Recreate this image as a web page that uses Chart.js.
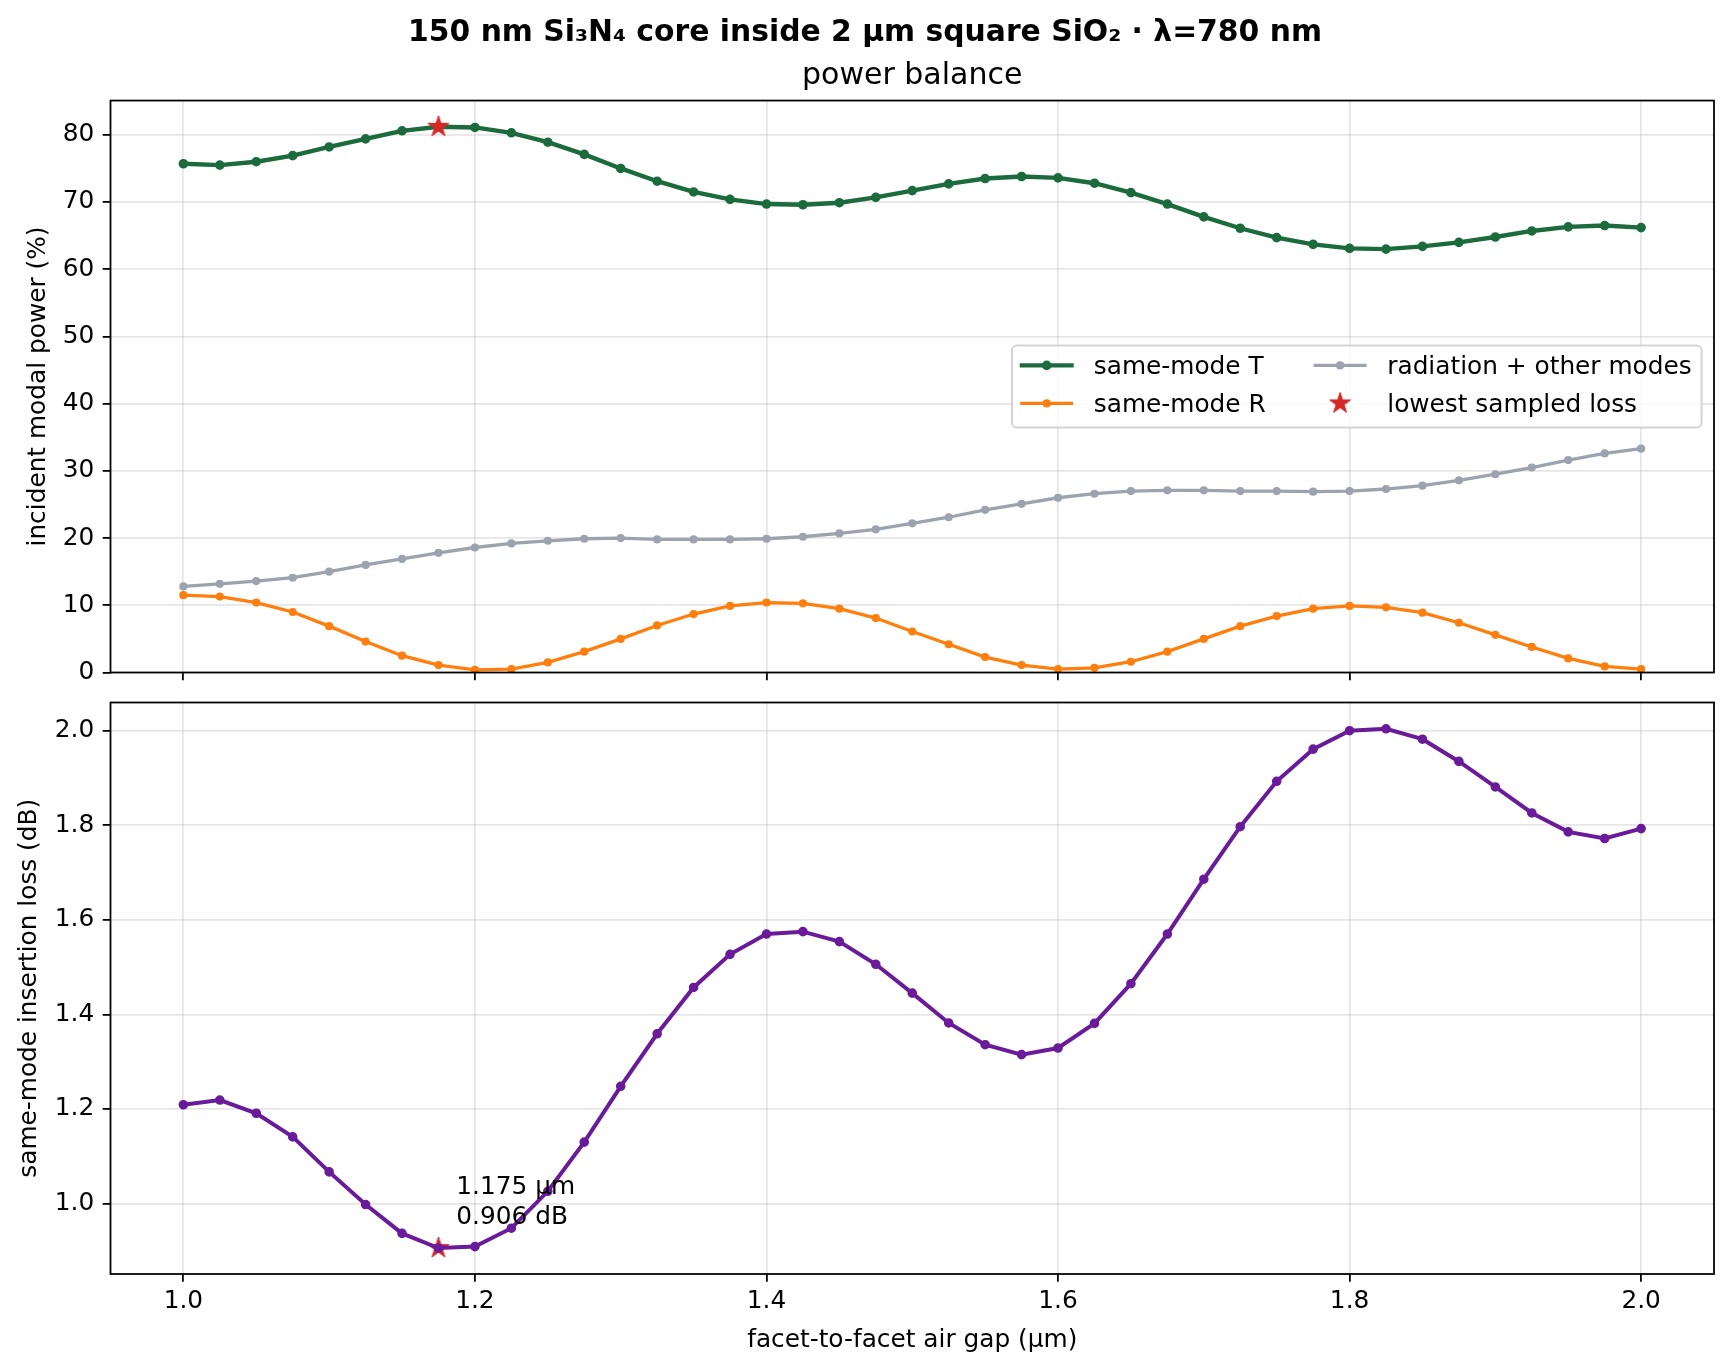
<!DOCTYPE html>
<html>
<head>
<meta charset="utf-8">
<script src="https://cdn.jsdelivr.net/npm/chart.js@4.4.1/dist/chart.umd.min.js"></script>
<style>
  html, body { margin: 0; padding: 0; background: #ffffff; }
  #wrap { position: relative; width: 1730px; height: 1370px; background: #fff; }
  .box { position: absolute; left: 0; width: 1730px; }
</style>
</head>
<body>
<div id="wrap">
  <div class="box" style="top:0px;height:686px;"><canvas id="topChart"></canvas></div>
  <div class="box" style="top:686px;height:684px;"><canvas id="bottomChart"></canvas></div>
</div>
<script>
// ---------------- data ----------------
const gapUm = [1.000, 1.025, 1.050, 1.075, 1.100, 1.125, 1.150, 1.175, 1.200, 1.225,
               1.250, 1.275, 1.300, 1.325, 1.350, 1.375, 1.400, 1.425, 1.450, 1.475,
               1.500, 1.525, 1.550, 1.575, 1.600, 1.625, 1.650, 1.675, 1.700, 1.725,
               1.750, 1.775, 1.800, 1.825, 1.850, 1.875, 1.900, 1.925, 1.950, 1.975, 2.000];

const sameModeT = [75.7, 75.5, 76.0, 76.9, 78.2, 79.4, 80.6, 81.2, 81.1, 80.3,
                   78.9, 77.1, 75.0, 73.1, 71.5, 70.4, 69.7, 69.6, 69.9, 70.7,
                   71.7, 72.7, 73.5, 73.8, 73.6, 72.8, 71.4, 69.7, 67.8, 66.1,
                   64.7, 63.7, 63.1, 63.0, 63.4, 64.0, 64.8, 65.7, 66.3, 66.5, 66.2];

const sameModeR = [11.5, 11.3, 10.4, 9.0, 6.9, 4.6, 2.5, 1.1, 0.4, 0.5,
                   1.5, 3.1, 5.0, 7.0, 8.7, 9.9, 10.4, 10.3, 9.5, 8.1,
                   6.1, 4.2, 2.3, 1.1, 0.5, 0.7, 1.6, 3.1, 5.0, 6.9,
                   8.4, 9.5, 9.9, 9.7, 8.9, 7.4, 5.6, 3.8, 2.1, 0.9, 0.5];

const radiationOther = [12.8, 13.2, 13.6, 14.1, 15.0, 16.0, 16.9, 17.8, 18.6, 19.2,
                        19.6, 19.9, 20.0, 19.8, 19.8, 19.8, 19.9, 20.2, 20.7, 21.3,
                        22.2, 23.1, 24.2, 25.1, 26.0, 26.6, 27.0, 27.1, 27.1, 27.0,
                        27.0, 26.9, 27.0, 27.3, 27.8, 28.6, 29.5, 30.5, 31.6, 32.6, 33.3];

const insertionLossDb = [1.209, 1.219, 1.191, 1.141, 1.067, 0.998, 0.937, 0.906, 0.909, 0.948,
                         1.026, 1.130, 1.248, 1.359, 1.457, 1.527, 1.570, 1.575, 1.554, 1.506,
                         1.445, 1.382, 1.336, 1.315, 1.329, 1.381, 1.465, 1.570, 1.686, 1.797,
                         1.893, 1.961, 2.000, 2.004, 1.982, 1.935, 1.881, 1.826, 1.786, 1.772, 1.793];

const bestGap = [1.175];
const bestT = [81.2];
const bestLoss = [0.906];

const xTicks = [1.0, 1.2, 1.4, 1.6, 1.8, 2.0];
const powerTicks = [0, 10, 20, 30, 40, 50, 60, 70, 80];
const lossTicks = [1.0, 1.2, 1.4, 1.6, 1.8, 2.0];

const seriesLabels = ['same-mode T', 'same-mode R', 'radiation + other modes', 'lowest sampled loss'];
const annotationLines = ['1.175 µm', '0.906 dB'];
const suptitleText = '150 nm Si\u2083N\u2084 core inside 2 µm square SiO\u2082 · λ=780 nm';
const subtitleText = 'power balance';
const xLabel = 'facet-to-facet air gap (µm)';
const yLabelTop = 'incident modal power (%)';
const yLabelBottom = 'same-mode insertion loss (dB)';

// ---------------- styling ----------------
const FS = 24.8;            // base font px
const GREEN = '#1b6b3c';
const ORANGE = '#ff7f0e';
const GREY = '#9ca3af';
const PURPLE = '#6a1b9a';
const RED = '#d62728';
const GRID = 'rgba(176,176,176,0.32)';
const FAMILY = "'DejaVu Sans', 'Liberation Sans', sans-serif";

Chart.defaults.font.family = FAMILY;
Chart.defaults.font.size = FS;
Chart.defaults.color = '#000';

function makeStar(R, color) {
  const s = Math.ceil(2 * R + 4);
  const c = document.createElement('canvas');
  c.width = s; c.height = s;
  const g = c.getContext('2d');
  const cx = s / 2, cy = s / 2, r = R * 0.381966;
  g.beginPath();
  for (let i = 0; i < 10; i++) {
    const a = -Math.PI / 2 + i * Math.PI / 5;
    const rr = (i % 2) ? r : R;
    g.lineTo(cx + rr * Math.cos(a), cy + rr * Math.sin(a));
  }
  g.closePath();
  g.fillStyle = color; g.fill();
  g.lineWidth = 1; g.strokeStyle = color; g.stroke();
  return c;
}
const starImg = makeStar(11, RED);

const pts = (xs, ys) => xs.map((x, i) => ({ x: x, y: ys[i] }));

function noPad(s) { s.paddingTop = 0; s.paddingBottom = 0; s.paddingLeft = 0; s.paddingRight = 0; }

function xScale(showLabels, height, titleOpts) {
  return {
    type: 'linear', min: 0.95, max: 2.05,
    afterBuildTicks: s => { s.ticks = xTicks.map(v => ({ value: v })); },
    afterFit: s => { s.height = height; noPad(s); },
    grid: { color: GRID, lineWidth: 1.78, drawTicks: true, tickLength: 7.8, tickColor: '#000', tickWidth: 1.78 },
    border: { display: false },
    ticks: { display: showLabels, padding: 4.5, maxRotation: 0, autoSkip: false,
             callback: v => Number(v).toFixed(1), font: { size: FS }, color: '#000' },
    title: titleOpts || { display: false }
  };
}

function yScale(min, max, ticks, fmt, label, titlePad) {
  return {
    type: 'linear', min: min, max: max, position: 'left',
    afterBuildTicks: s => { s.ticks = ticks.map(v => ({ value: v })); },
    afterFit: s => { s.width = 110.5; noPad(s); },
    grid: { color: GRID, lineWidth: 1.78, drawTicks: true, tickLength: 7.8, tickColor: '#000', tickWidth: 1.78 },
    border: { display: false },
    ticks: { padding: 8.5, autoSkip: false, callback: fmt, font: { size: FS }, color: '#000' },
    title: { display: true, text: label, font: { size: FS }, color: '#000', padding: { top: titlePad, bottom: 0 } }
  };
}

const framePlugin = {
  id: 'frame',
  afterDatasetsDraw(chart) {
    const a = chart.chartArea, ctx = chart.ctx;
    ctx.save();
    ctx.strokeStyle = '#000'; ctx.lineWidth = 1.78;
    ctx.strokeRect(a.left, a.top, a.right - a.left, a.bottom - a.top);
    ctx.restore();
  }
};

const legendPlugin = {
  id: 'mplLegend',
  afterDraw(chart) {
    const ctx = chart.ctx, a = chart.chartArea;
    const ds = chart.data.datasets;
    const cols = [[0, 1], [2, 3]];
    const bp = 0.4 * FS, hl = 2 * FS, hp = 0.9 * FS, cs = 2 * FS;
    ctx.save();
    ctx.font = FS + 'px ' + FAMILY;
    const colW = cols.map(c => Math.max(...c.map(i => ctx.measureText(ds[i].label).width)));
    const W = 2 * bp + 2 * (hl + hp) + colW[0] + cs + colW[1];
    const H = 2 * bp + 2 * FS + 0.5 * FS;
    const right = a.right - 0.5 * FS;
    const left = right - W;
    const top = (a.top + a.bottom) / 2 - H / 2;
    const rr = 0.2 * FS;
    ctx.beginPath();
    ctx.roundRect(left, top, W, H, rr);
    ctx.fillStyle = 'rgba(255,255,255,0.8)'; ctx.fill();
    ctx.strokeStyle = 'rgba(204,204,204,0.85)'; ctx.lineWidth = 2; ctx.stroke();
    const rowY = [top + 19.8, top + 19.8 + 38];
    let x0 = left + bp;
    cols.forEach((c, ci) => {
      c.forEach((idx, ri) => {
        const d = ds[idx], y = rowY[ri];
        if (d.showLine !== false) {
          ctx.beginPath();
          ctx.strokeStyle = d.borderColor; ctx.lineWidth = d.borderWidth; ctx.lineCap = 'square';
          ctx.moveTo(x0, y); ctx.lineTo(x0 + hl, y); ctx.stroke();
          ctx.lineCap = 'butt';
          ctx.beginPath();
          ctx.arc(x0 + hl / 2, y, d.pointRadius, 0, Math.PI * 2);
          ctx.fillStyle = d.pointBackgroundColor; ctx.fill();
          ctx.lineWidth = d.pointBorderWidth; ctx.strokeStyle = d.pointBorderColor; ctx.stroke();
        } else {
          ctx.drawImage(starImg, x0 + hl / 2 - starImg.width / 2, y - starImg.height / 2);
        }
        ctx.fillStyle = '#000'; ctx.textBaseline = 'alphabetic'; ctx.textAlign = 'left';
        ctx.fillText(d.label, x0 + hl + hp, y + 8.9);
      });
      x0 += hl + hp + colW[ci] + cs;
    });
    ctx.restore();
  }
};

const annotationPlugin = {
  id: 'bestNote',
  afterDatasetsDraw(chart) {
    const ctx = chart.ctx;
    const px = chart.scales.x.getPixelForValue(bestGap[0]);
    const py = chart.scales.y.getPixelForValue(bestLoss[0]);
    ctx.save();
    ctx.font = FS + 'px ' + FAMILY;
    ctx.fillStyle = '#000'; ctx.textAlign = 'left'; ctx.textBaseline = 'alphabetic';
    const base2 = py - 17.8 - 5.8;
    ctx.fillText(annotationLines[0], px + 17.8, base2 - 30);
    ctx.fillText(annotationLines[1], px + 17.8, base2);
    ctx.restore();
  }
};

// ---------------- top chart ----------------
new Chart(document.getElementById('topChart'), {
  type: 'line',
  data: {
    datasets: [
      { label: seriesLabels[0], data: pts(gapUm, sameModeT), borderColor: GREEN, backgroundColor: GREEN,
        borderWidth: 4.4, pointRadius: 3.7, pointBorderWidth: 2.2, pointBackgroundColor: GREEN, pointBorderColor: GREEN,
        tension: 0, order: 2 },
      { label: seriesLabels[1], data: pts(gapUm, sameModeR), borderColor: ORANGE, backgroundColor: ORANGE,
        borderWidth: 3.3, pointRadius: 3.0, pointBorderWidth: 2.2, pointBackgroundColor: ORANGE, pointBorderColor: ORANGE,
        tension: 0, order: 3 },
      { label: seriesLabels[2], data: pts(gapUm, radiationOther), borderColor: GREY, backgroundColor: GREY,
        borderWidth: 3.3, pointRadius: 3.0, pointBorderWidth: 2.2, pointBackgroundColor: GREY, pointBorderColor: GREY,
        tension: 0, order: 4 },
      { label: seriesLabels[3], data: pts(bestGap, bestT), showLine: false, pointStyle: starImg,
        pointRadius: 11, borderColor: RED, backgroundColor: RED, order: 1 }
    ]
  },
  options: {
    responsive: true, maintainAspectRatio: false, animation: false,
    layout: { padding: { top: 0, right: 0, bottom: 5.5, left: 0 } },
    plugins: {
      legend: { display: false }, tooltip: { enabled: false },
      title: { display: true, text: suptitleText, color: '#000',
               font: { size: 29.8, weight: 'bold' }, padding: { top: 15.0, bottom: 0 } },
      subtitle: { display: true, text: subtitleText, color: '#000', fullSize: false,
                  font: { size: 30, weight: 'normal' }, padding: { top: 7.4, bottom: 6.4 } }
    },
    scales: {
      x: xScale(false, 8),
      y: yScale(0, 85.1, powerTicks, v => String(v), yLabelTop, 23.6),
      yPad: { position: 'right', display: true, afterFit: s => { s.width = 16; noPad(s); },
              grid: { display: false, drawTicks: false }, border: { display: false }, ticks: { display: false } }
    }
  },
  plugins: [framePlugin, legendPlugin]
});

// ---------------- bottom chart ----------------
new Chart(document.getElementById('bottomChart'), {
  type: 'line',
  data: {
    datasets: [
      { label: 'same-mode insertion loss', data: pts(gapUm, insertionLossDb), borderColor: PURPLE, backgroundColor: PURPLE,
        borderWidth: 4.0, pointRadius: 3.7, pointBorderWidth: 2.2, pointBackgroundColor: PURPLE, pointBorderColor: PURPLE,
        tension: 0, order: 1 },
      { label: seriesLabels[3], data: pts(bestGap, bestLoss), showLine: false, pointStyle: starImg,
        pointRadius: 11, borderColor: RED, backgroundColor: RED, order: 2 }
    ]
  },
  options: {
    responsive: true, maintainAspectRatio: false, animation: false,
    layout: { padding: { top: 16.5, right: 16, bottom: 0, left: 0 } },
    plugins: { legend: { display: false }, tooltip: { enabled: false } },
    scales: {
      x: xScale(true, 96, { display: true, text: xLabel, color: '#000', font: { size: FS }, padding: { top: 0, bottom: 14.4 } }),
      y: yScale(0.8511, 2.0596, lossTicks, v => Number(v).toFixed(1), yLabelBottom, 15.0)
    }
  },
  plugins: [framePlugin, annotationPlugin]
});
</script>
</body>
</html>
